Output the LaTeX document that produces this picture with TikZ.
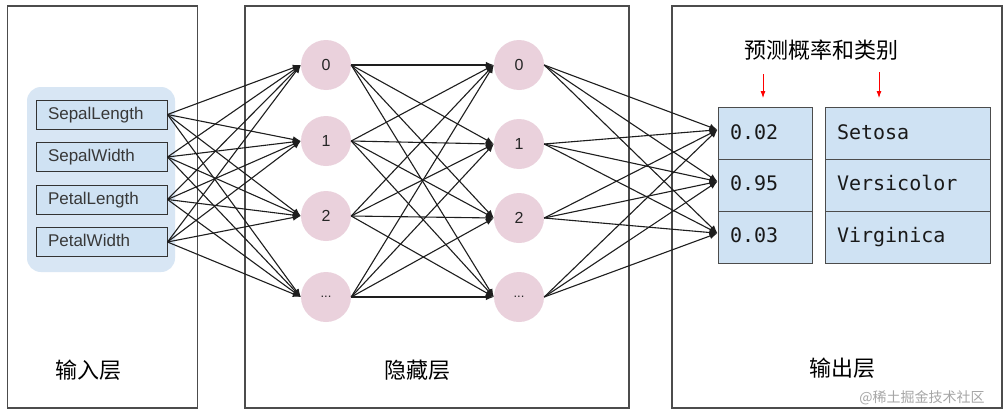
\documentclass[tikz,border=0pt]{standalone}
\usepackage{fontspec}
\setmainfont{Liberation Sans}
\newfontfamily\cjk{Noto Sans CJK SC}
\newfontfamily\monof{DejaVu Sans Mono}
\usetikzlibrary{arrows.meta}
\definecolor{inblue}{HTML}{CFE2F3}
\definecolor{bgblue}{HTML}{D8E6F4}
\definecolor{nodepink}{HTML}{EAD1DC}
\definecolor{edge}{HTML}{1E1E1E}
\begin{document}
\begin{tikzpicture}[x=1pt,y=-1pt,
  panel/.style={draw=black!70,line width=1.4pt,minimum width=#1,minimum height=402pt,inner sep=0pt},
  bgbox/.style={fill=bgblue,rounded corners=14pt,minimum width=148pt,minimum height=185pt,inner sep=0pt},
  inbox/.style={draw=black!80,line width=1pt,fill=inblue,minimum height=29pt,text width=107pt,inner xsep=12pt,inner ysep=0pt,text height=12.5pt,text depth=3.5pt,align=left,font=\fontsize{17}{20}\selectfont,text=black!78},
  neuron/.style={circle,fill=nodepink,minimum size=50pt,inner sep=0pt,font=\fontsize{16}{18}\selectfont,text=black!85},
  outbox/.style={draw=black!70,line width=1pt,fill=inblue,minimum height=51.7pt,text width=#1,inner xsep=12pt,inner ysep=0pt,text height=14.5pt,text depth=4pt,align=left,font=\monof\fontsize{20}{22}\selectfont,text=black!90},
  conn/.style={draw=edge,line width=1.1pt,-{Latex[length=8pt,width=6.5pt]}},
  redarrow/.style={draw=red,line width=0.8pt,-{Latex[length=7pt,width=5pt]}},
  captext/.style={font=\cjk\fontsize{22}{24}\selectfont}
]
\useasboundingbox (0,0) rectangle (1008,415);
\fill[white] (0,0) rectangle (1008,415);
% panels
\node[panel=190pt] (pin) at (102.5,207) {};
\node[panel=384pt] (phid) at (437,207) {};
\node[panel=330pt] (pout) at (837,207) {};
% input
\node[bgbox] (bg) at (101,179.5) {};
\node[inbox] (i1) at (101.5,114.5) {SepalLength};
\node[inbox] (i2) at (101.5,157) {SepalWidth};
\node[inbox] (i3) at (101.5,199.5) {PetalLength};
\node[inbox] (i4) at (101.5,242) {PetalWidth};
% hidden layer 1
\node[neuron] (a1) at (326,65) {0};
\node[neuron] (a2) at (326,141) {1};
\node[neuron] (a3) at (326,216) {2};
\node[neuron] (a4) at (326,297) {\fontsize{13}{14}\selectfont...};
% hidden layer 2
\node[neuron] (b1) at (519,65) {0};
\node[neuron] (b2) at (519,144) {1};
\node[neuron] (b3) at (519,218) {2};
\node[neuron] (b4) at (519,297) {\fontsize{13}{14}\selectfont...};
% outputs
\node[outbox=70pt] (o1) at (765,133.8) {0.02};
\node[outbox=70pt] (o2) at (765,185.5) {0.95};
\node[outbox=70pt] (o3) at (765,237.2) {0.03};
\node[outbox=141pt] (c1) at (907.5,133.8) {Setosa};
\node[outbox=141pt] (c2) at (907.5,185.5) {Versicolor};
\node[outbox=141pt] (c3) at (907.5,237.2) {Virginica};
% connections
\foreach \s in {1,...,4}
  \foreach \t in {1,...,4}
    \draw[conn] (i\s.east) -- (a\t.west);
\foreach \s in {1,...,4}
  \foreach \t in {1,...,4}
    \draw[conn] (a\s.east) -- (b\t.west);
\foreach \s in {1,...,4}
  \foreach \t in {1,2,3}
    \draw[conn] (b\s.east) -- ([yshift=4pt]o\t.west);
% captions
\node[captext] (t1) at (88,370) {输入层};
\node[captext] (t2) at (417,370) {隐藏层};
\node[captext] (t3) at (842,368) {输出层};
\node[captext] (t4) at (821,50) {预测概率和类别};
\coordinate (r1s) at (763,74);
\coordinate (r1e) at (763,98);
\coordinate (r2s) at (879,72);
\coordinate (r2e) at (879,98);
\draw[redarrow] (r1s) -- (r1e);
\draw[redarrow] (r2s) -- (r2e);
\node[font=\cjk\fontsize{14}{16}\selectfont,text=black!35] (wm) at (922,398) {@稀土掘金技术社区};
\end{tikzpicture}
\end{document}
